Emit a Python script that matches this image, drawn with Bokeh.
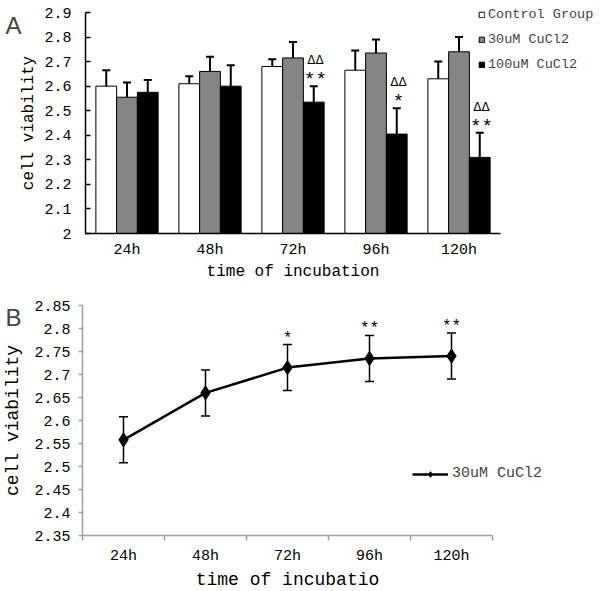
from bokeh.plotting import figure
from bokeh.layouts import column
from bokeh.models import (ColumnDataSource, FixedTicker, CustomJSTickFormatter, Legend,
                          LegendItem, Label, Range1d, LinearAxis)
from bokeh.transform import dodge
from bokeh.core.properties import value
from bokeh.embed import file_html
from bokeh.resources import INLINE

# ---------------- data ----------------
times = ["24h", "48h", "72h", "96h", "120h"]

control = [2.600, 2.610, 2.680, 2.665, 2.630]
control_sd = [0.065, 0.030, 0.030, 0.080, 0.070]
cu30 = [2.555, 2.660, 2.715, 2.735, 2.740]
cu30_sd = [0.060, 0.060, 0.065, 0.055, 0.060]
cu100 = [2.575, 2.600, 2.535, 2.405, 2.310]
cu100_sd = [0.050, 0.085, 0.065, 0.105, 0.100]
cu100_delta = ["", "", "ΔΔ", "ΔΔ", "ΔΔ"]
cu100_star = ["", "", "**", "*", "**"]

a_yticks = [2.0, 2.1, 2.2, 2.3, 2.4, 2.5, 2.6, 2.7, 2.8, 2.9]

b_mean = [2.558, 2.660, 2.715, 2.735, 2.740]
b_sd = [0.050, 0.050, 0.050, 0.050, 0.050]
b_star = ["", "", "*", "**", "**"]
b_yticks = [2.35, 2.40, 2.45, 2.50, 2.55, 2.60, 2.65, 2.70, 2.75, 2.80, 2.85]

series_names = ["Control Group", "30uM CuCl2", "100uM CuCl2"]
series_colors = ["white", "#858585", "black"]

FONT = "Liberation Mono"
n = len(times)
xpos = [i + 0.5 for i in range(n)]
cat_fmt = CustomJSTickFormatter(args=dict(labels=times), code="return labels[Math.floor(tick)];")
num_fmt = CustomJSTickFormatter(code="return String(parseFloat(tick.toFixed(2)));")

# ---------------- layout constants (pixels) ----------------
W = 600
HA, HB = 290, 300
A_L, A_R, A_T, A_B = 85, 500, 12, 233
B_L, B_R, B_T, B_B = 82, 492, 15, 245


def ranges(L, R, T, B, H, x0, x1, y0, y1):
    ux = (R - L) / (x1 - x0)
    uy = (B - T) / (y1 - y0)
    xr = Range1d(x0 - L / ux, x1 + (W - R) / ux)
    yr = Range1d(y0 - (H - B) / uy, y1 + T / uy)
    return xr, yr


# ---------------- panel A ----------------
y0A, y1A = a_yticks[0], a_yticks[-1]
xrA, yrA = ranges(A_L, A_R, A_T, A_B, HA, 0, n, y0A, y1A)
pa = figure(x_range=xrA, y_range=yrA, width=W, height=HA, output_backend="svg",
            toolbar_location=None, x_axis_location=None, y_axis_location=None,
            min_border=0, min_border_left=0, min_border_right=0,
            min_border_top=0, min_border_bottom=0)
pa.outline_line_color = None
pa.grid.visible = False

srcA = ColumnDataSource(dict(x=xpos,
                             c=control, c_hi=[m + s for m, s in zip(control, control_sd)],
                             g=cu30, g_hi=[m + s for m, s in zip(cu30, cu30_sd)],
                             k=cu100, k_hi=[m + s for m, s in zip(cu100, cu100_sd)],
                             delta=cu100_delta, star=cu100_star))
renA = []
for off, col, mcol, hcol in zip([-0.25, 0.0, 0.25], series_colors, ["c", "g", "k"],
                                ["c_hi", "g_hi", "k_hi"]):
    xs = dodge("x", off)
    r = pa.vbar(x=xs, top=mcol, bottom=y0A, width=0.25, source=srcA,
                fill_color=col, line_color="black", line_width=1)
    renA.append(r)
    pa.segment(x0=xs, y0=mcol, x1=xs, y1=hcol, source=srcA, line_color="black", line_width=2)
    pa.scatter(x=xs, y=hcol, marker="dash", size=8, source=srcA, line_color="black", line_width=2)

xk = dodge("x", 0.27)
pa.text(x=xk, y="k_hi", text="star", source=srcA, y_offset=-6, text_align="center",
        text_baseline="middle", text_font=value(FONT), text_font_size="19px", text_color="black")
pa.text(x=xk, y="k_hi", text="delta", source=srcA, y_offset=-26, text_align="center",
        text_baseline="middle", text_font=value("DejaVu Sans"), text_font_size="12px", text_color="black")

yaxA = LinearAxis(fixed_location=0, bounds=(y0A, y1A), ticker=FixedTicker(ticks=a_yticks),
                  formatter=num_fmt, axis_label="cell viability")
xaxA = LinearAxis(fixed_location=y0A, bounds=(0, n), ticker=FixedTicker(ticks=xpos),
                  formatter=cat_fmt, axis_label="time of incubation")
yaxA.major_tick_in = 5
yaxA.major_tick_out = 0
yaxA.minor_tick_line_color = None
yaxA.major_label_standoff = 14
yaxA.axis_label_standoff = 3
xaxA.major_tick_in = 0
xaxA.major_tick_out = 0
xaxA.minor_tick_line_color = None
xaxA.major_label_standoff = 8
xaxA.axis_label_standoff = 1
for ax in (xaxA, yaxA):
    ax.axis_line_color = "black"
    ax.axis_line_width = 1.5
    ax.major_tick_line_width = 1.5
    ax.major_label_text_font = FONT
    ax.major_label_text_font_size = "15px"
    ax.major_label_text_color = "black"
    ax.axis_label_text_font = FONT
    ax.axis_label_text_font_size = "16px"
    ax.axis_label_text_font_style = "normal"
    ax.axis_label_text_color = "black"
xaxA.major_tick_line_color = None
yaxA.major_tick_line_color = "black"
pa.add_layout(yaxA, "left")
pa.add_layout(xaxA, "below")

legA = Legend(items=[LegendItem(label=nm, renderers=[r]) for nm, r in zip(series_names, renA)],
              location=(478, 218), padding=0, margin=0, spacing=10,
              glyph_width=7, glyph_height=7, label_standoff=3,
              label_text_font=FONT, label_text_font_size="13.5px",
              background_fill_alpha=0, border_line_alpha=0)
pa.add_layout(legA)
pa.add_layout(Label(x=5, y=HA - 25, x_units="screen", y_units="screen", text="A",
                    text_font="Liberation Sans", text_font_size="24px",
                    text_baseline="alphabetic"))

# ---------------- panel B ----------------
y0B, y1B = b_yticks[0], b_yticks[-1]
xrB, yrB = ranges(B_L, B_R, B_T, B_B, HB, 0, n, y0B, y1B)
pb = figure(x_range=xrB, y_range=yrB, width=W, height=HB, output_backend="svg",
            toolbar_location=None, x_axis_location=None, y_axis_location=None,
            min_border=0, min_border_left=0, min_border_right=0,
            min_border_top=0, min_border_bottom=0)
pb.outline_line_color = None
pb.grid.visible = False

srcB = ColumnDataSource(dict(x=xpos, m=b_mean,
                             lo=[m - s for m, s in zip(b_mean, b_sd)],
                             hi=[m + s for m, s in zip(b_mean, b_sd)],
                             star=b_star))
pb.segment(x0="x", y0="lo", x1="x", y1="hi", source=srcB, line_color="black", line_width=1.5)
pb.scatter(x="x", y="lo", marker="dash", size=9, source=srcB, line_color="black", line_width=1.5)
pb.scatter(x="x", y="hi", marker="dash", size=9, source=srcB, line_color="black", line_width=1.5)
lineB = pb.line(x="x", y="m", source=srcB, line_color="black", line_width=2.5)
ptsB = pb.scatter(x="x", y="m", marker="diamond", size=14, source=srcB,
                  fill_color="black", line_color="black")
pb.text(x="x", y="hi", text="star", source=srcB, y_offset=-6, text_align="center",
        text_baseline="middle", text_font=value(FONT), text_font_size="16px", text_color="black")

GREY = "#a0a0a0"
yaxB = LinearAxis(fixed_location=0, bounds=(y0B, y1B), ticker=FixedTicker(ticks=b_yticks),
                  formatter=num_fmt, axis_label="cell viability")
xaxB = LinearAxis(fixed_location=y0B, bounds=(0, n),
                  ticker=FixedTicker(ticks=xpos, minor_ticks=list(range(n + 1))),
                  formatter=cat_fmt, axis_label="time of incubatio")
yaxB.major_tick_out = 4
yaxB.major_tick_in = 0
yaxB.minor_tick_line_color = None
yaxB.major_label_standoff = 8
yaxB.axis_label_standoff = 8
xaxB.major_tick_out = 5
xaxB.major_tick_in = 0
xaxB.minor_tick_out = 5
xaxB.minor_tick_in = 0
xaxB.minor_tick_line_width = 1.5
xaxB.major_label_standoff = 7
xaxB.axis_label_standoff = 2
for ax in (xaxB, yaxB):
    ax.axis_line_color = GREY
    ax.axis_line_width = 1.5
    ax.major_tick_line_width = 1.5
    ax.major_label_text_font = FONT
    ax.major_label_text_font_size = "15px"
    ax.major_label_text_color = "black"
    ax.axis_label_text_font = FONT
    ax.axis_label_text_font_size = "18px"
    ax.axis_label_text_font_style = "normal"
    ax.axis_label_text_color = "black"
xaxB.major_tick_line_color = None
xaxB.minor_tick_line_color = GREY
yaxB.major_tick_line_color = GREY
pb.add_layout(yaxB, "left")
pb.add_layout(xaxB, "below")

legB = Legend(items=[LegendItem(label="30uM CuCl2", renderers=[lineB, ptsB])],
              location=(412, 108), padding=0, margin=0, glyph_width=36, glyph_height=14,
              label_standoff=4, label_text_font=FONT, label_text_font_size="15px",
              background_fill_alpha=0, border_line_alpha=0)
pb.add_layout(legB)
pb.add_layout(Label(x=5, y=HB - 27, x_units="screen", y_units="screen", text="B",
                    text_font="Liberation Sans", text_font_size="24px",
                    text_baseline="alphabetic"))

p = column(pa, pb, spacing=0)
open("out.html", "w").write(file_html(p, INLINE))
